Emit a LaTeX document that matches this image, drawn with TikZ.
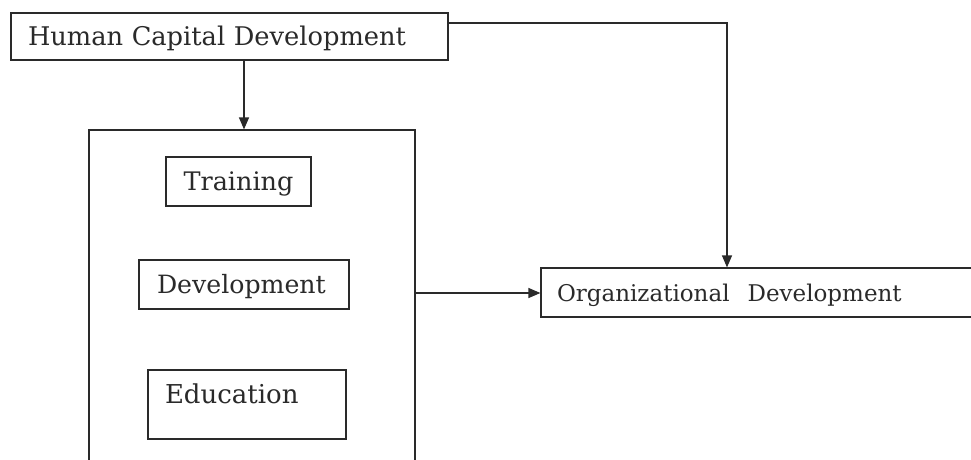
\documentclass[tikz,border=0pt]{standalone}
\usepackage{fontspec}
\setmainfont{DejaVu Serif}
\usetikzlibrary{arrows.meta}
\definecolor{ink}{HTML}{2A2A2A}
\tikzset{
  box/.style={draw=ink, line width=1.2pt, rectangle, text=ink, inner ysep=0pt,
    text height=18.5pt, text depth=0pt},
  arr/.style={draw=ink, line width=1.2pt, -{Triangle[length=12pt,width=10pt]}},
}
\begin{document}
\begin{tikzpicture}[x=1pt,y=-1pt]
\clip (0,0) rectangle (971,459);
\fill[white] (0,0) rectangle (971,459);
\node[box, minimum width=437pt, minimum height=47pt, inner xsep=17pt, text width=403pt, align=left,
  font=\fontsize{25.7}{25.7}\selectfont] (hcd) at (229.5,36.5) {Human Capital Development};
\node[box, minimum width=326pt, minimum height=350pt] (big) at (252,305) {};
\node[box, minimum width=145pt, minimum height=49pt, inner xsep=0pt,
  font=\fontsize{25.5}{25.5}\selectfont] (train) at (238.5,181.5) {Training};
\node[box, minimum width=210pt, minimum height=49pt, inner xsep=18pt, text width=174pt, align=left,
  font=\fontsize{25.2}{25.2}\selectfont] (dev) at (244,284.5) {Development};
\node[box, minimum width=198pt, minimum height=69pt, inner xsep=17pt, text width=164pt, align=left,
  text depth=20.5pt, font=\fontsize{26}{26}\selectfont] (edu) at (247,404.5) {Education};
\node[box, minimum width=459pt, minimum height=49pt, inner xsep=16pt, text width=427pt, align=left,
  text height=17pt, font=\fontsize{23}{23}\selectfont] (org) at (770.5,292.5) {Organizational\hspace{18pt}Development};
\draw[arr] ([xshift=14.5pt]hcd.south) -- ([xshift=14.5pt]hcd.south |- big.north);
\draw[arr] ([yshift=-0.5pt]big.east |- org.west) -- ([yshift=-0.5pt]org.west);
\draw[arr] ([yshift=13.5pt]hcd.east) -| ([xshift=-43.5pt]org.north);
\end{tikzpicture}
\end{document}
